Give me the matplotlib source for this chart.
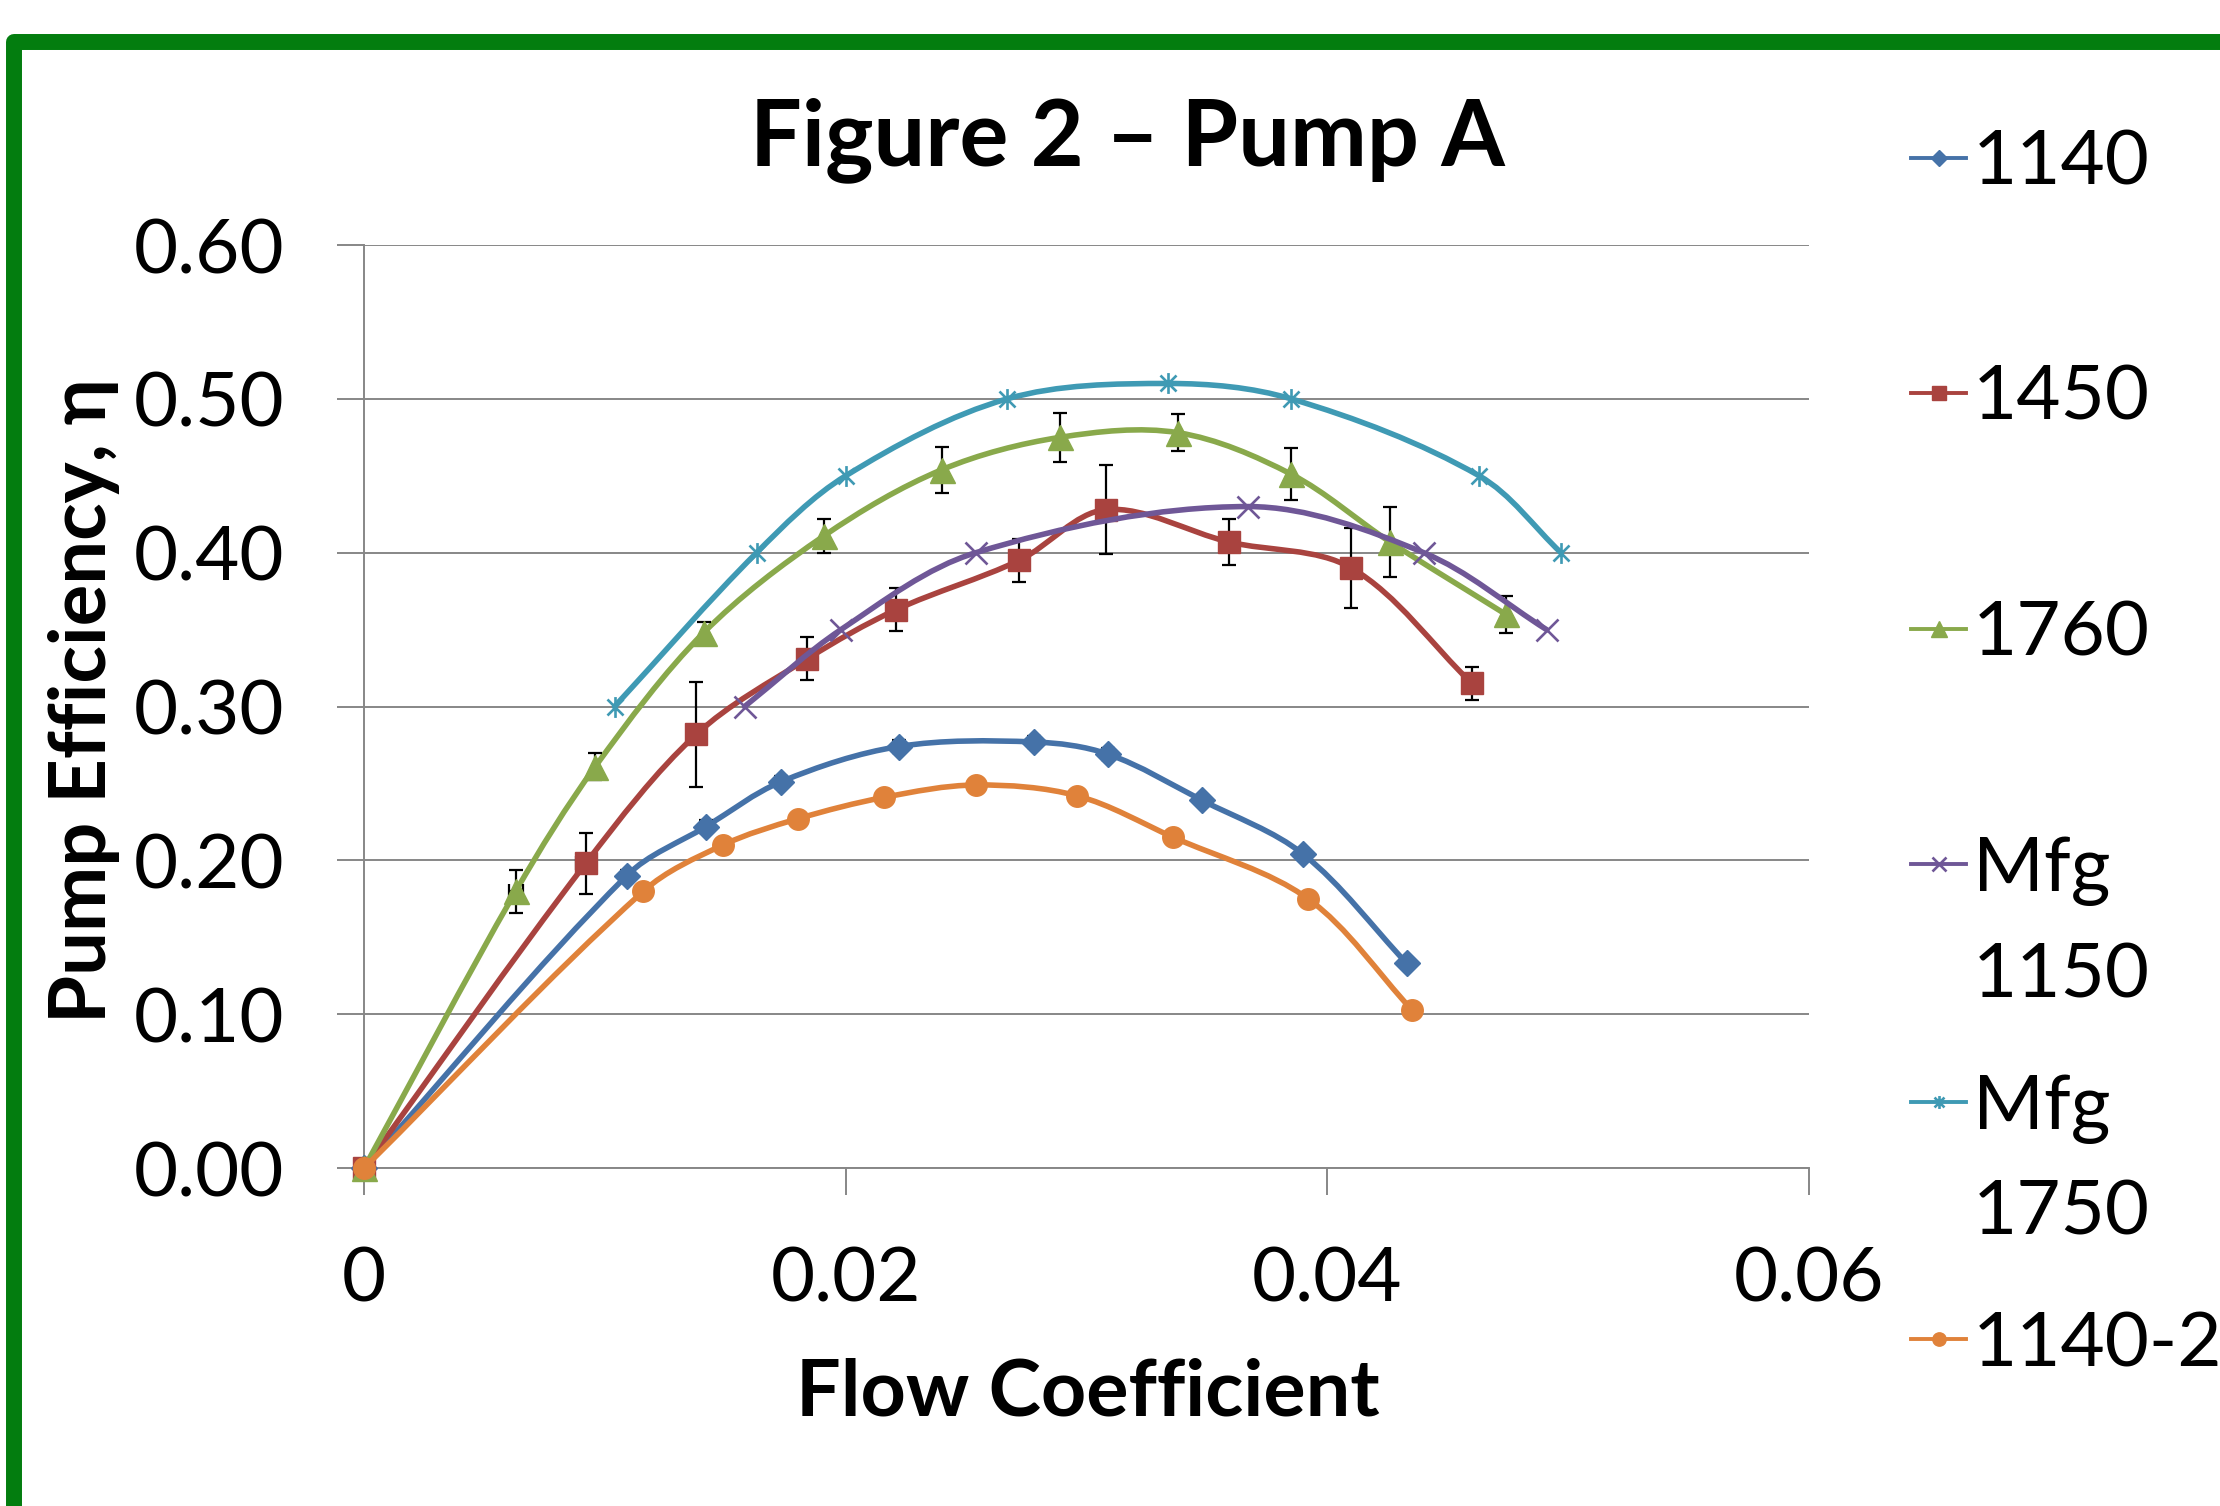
import numpy as np
import matplotlib
matplotlib.use("Agg")
import matplotlib.pyplot as plt
from matplotlib.path import Path
from matplotlib.patches import PathPatch, Rectangle
from matplotlib.lines import Line2D
from matplotlib.text import Annotation

plt.rcParams['font.family'] = ['Lato', 'DejaVu Sans']

# ---------------------------------------------------------
# Data
# ---------------------------------------------------------
x_1140 = [0, 0.0109, 0.0142, 0.0173, 0.0222, 0.0278, 0.0309, 0.0348, 0.0390, 0.0433]
y_1140 = [0, 0.190, 0.222, 0.251, 0.274, 0.277, 0.269, 0.239, 0.204, 0.133]
e_1140 = [0, 0.004, 0.004, 0.004, 0.004, 0.004, 0.004, 0.003, 0.003, 0.002]

x_1450 = [0, 0.0092, 0.0138, 0.0184, 0.0221, 0.0272, 0.0308, 0.0359, 0.0410, 0.0460]
y_1450 = [0, 0.198, 0.282, 0.331, 0.363, 0.395, 0.428, 0.407, 0.390, 0.315]
e_1450 = [0, 0.020, 0.034, 0.014, 0.014, 0.014, 0.029, 0.015, 0.026, 0.011]
xe_1450 = [0, 0.0004, 0, 0, 0, 0, 0, 0, 0, 0]

x_1760 = [0, 0.0063, 0.0096, 0.0141, 0.0191, 0.0240, 0.0289, 0.0338, 0.0385, 0.0426, 0.0474]
y_1760 = [0, 0.180, 0.261, 0.348, 0.411, 0.454, 0.475, 0.478, 0.451, 0.407, 0.360]
e_1760 = [0, 0.014, 0.009, 0.007, 0.011, 0.015, 0.016, 0.012, 0.017, 0.023, 0.012]
xe_1760 = [0, 0.0003, 0, 0, 0, 0, 0, 0, 0, 0, 0]

x_mfg1150 = [0.0158, 0.0198, 0.0254, 0.0367, 0.0440, 0.0491]
y_mfg1150 = [0.30, 0.35, 0.40, 0.43, 0.40, 0.35]

x_mfg1750 = [0.0104, 0.0163, 0.0200, 0.0267, 0.0334, 0.0385, 0.0463, 0.0497]
y_mfg1750 = [0.30, 0.40, 0.45, 0.50, 0.51, 0.50, 0.45, 0.40]

x_1140_2 = [0, 0.0116, 0.0149, 0.0180, 0.0216, 0.0254, 0.0296, 0.0336, 0.0392, 0.0435]
y_1140_2 = [0, 0.180, 0.210, 0.227, 0.241, 0.249, 0.242, 0.215, 0.175, 0.103]

x_ticks = [0, 0.02, 0.04, 0.06]
x_tick_labels = ['0', '0.02', '0.04', '0.06']
y_ticks = [0.0, 0.1, 0.2, 0.3, 0.4, 0.5, 0.6]
y_tick_labels = ['0.00', '0.10', '0.20', '0.30', '0.40', '0.50', '0.60']

# Excel "star" marker: an x with a vertical stroke
star = Path([(-1, -1), (1, 1), (-1, 1), (1, -1), (0, -1.3), (0, 1.3)],
            [Path.MOVETO, Path.LINETO] * 3)

series = [
    # label, x, y, yerr, xerr, color, marker, markersize
    ('1140', x_1140, y_1140, e_1140, None, '#4572a8', 'D', 13.5),
    ('1450', x_1450, y_1450, e_1450, xe_1450, '#a9433f', 's', 16),
    ('1760', x_1760, y_1760, e_1760, xe_1760, '#89a94b', '^', 18),
    ('Mfg', x_mfg1150, y_mfg1150, None, None, '#6f5797', 'x', 16),
    ('Mfg', x_mfg1750, y_mfg1750, None, None, '#3f9ab4', star, 15),
    ('1140-2', x_1140_2, y_1140_2, None, None, '#e0823a', 'o', 15.5),
]
second_lines = {3: '1150', 4: '1750'}


# ---------------------------------------------------------
# Helper: Excel-style smoothed line as cubic Bezier segments,
# tangents scaled by the on-screen segment lengths
# ---------------------------------------------------------
def smooth_path(ax, xs, ys):
    pts = ax.transData.transform(np.column_stack([xs, ys]).astype(float))
    n = len(pts)
    d = np.hypot(*np.diff(pts, axis=0).T)
    verts = [pts[0]]
    codes = [Path.MOVETO]
    for i in range(n - 1):
        p1, p2 = pts[i], pts[i + 1]
        if i > 0:
            c1 = p1 + (p2 - pts[i - 1]) * d[i] / (d[i - 1] + d[i]) / 3
        else:
            c1 = p1 + (p2 - p1) / 3
        if i + 2 < n:
            c2 = p2 - (pts[i + 2] - p1) * d[i] / (d[i] + d[i + 1]) / 3
        else:
            c2 = p2 - (p2 - p1) / 3
        verts += [c1, c2, p2]
        codes += [Path.CURVE4] * 3
    verts = ax.transData.inverted().transform(np.array(verts))
    return Path(verts, codes)


fig = plt.figure(figsize=(22.2, 15.06), dpi=100)
ax = fig.add_axes([0.164, 0.2244, 0.6509, 0.6129])
ax.set_xlim(0, 0.06)
ax.set_ylim(0, 0.6)

lw = 4.0
handles = []
for k, (label, xs, ys, yerr, xerr, color, marker, ms) in enumerate(series):
    z = 3 + k
    ax.add_patch(PathPatch(smooth_path(ax, xs, ys), facecolor='none', edgecolor=color,
                           lw=lw, capstyle='round', joinstyle='round',
                           transform=ax.transData, zorder=z, clip_on=False))
    if yerr is not None:
        xs_a, ys_a, ye_a = np.array(xs), np.array(ys), np.array(yerr)
        m = ye_a > 0
        ax.errorbar(xs_a[m], ys_a[m], yerr=ye_a[m], fmt='none', ecolor='black',
                    elinewidth=1.6, capsize=4.8, capthick=1.6, zorder=z + 0.1)
    if xerr is not None:
        xs_a, ys_a, xe_a = np.array(xs), np.array(ys), np.array(xerr)
        m = xe_a > 0
        ax.errorbar(xs_a[m], ys_a[m], xerr=xe_a[m], fmt='none', ecolor='black',
                    elinewidth=1.6, capsize=4.8, capthick=1.6, zorder=z + 0.1)
    mew = 1.9 if marker == 'x' or marker is star else 1
    ax.plot(xs, ys, linestyle='none', marker=marker, ms=ms, color=color,
            mec=color, mew=mew, zorder=z + 0.2, clip_on=False)
    handles.append(Line2D([], [], color=color, lw=lw * 0.7, marker=marker,
                          ms=ms * 0.62, mec=color, mew=mew, label=label))

ax.set_xticks(x_ticks)
ax.set_xticklabels(x_tick_labels)
ax.set_yticks(y_ticks)
ax.set_yticklabels(y_tick_labels)

grid_c = '#878787'
ax.grid(axis='y', color=grid_c, lw=1.4, zorder=1)
ax.set_axisbelow(True)
for s in ['top', 'right']:
    ax.spines[s].set_visible(False)
for s in ['left', 'bottom']:
    ax.spines[s].set_color(grid_c)
    ax.spines[s].set_linewidth(1.4)
ax.tick_params(axis='both', direction='out', length=19.5, width=1.4, color=grid_c,
               labelsize=55, labelcolor='black')
ax.tick_params(axis='y', pad=38)
ax.tick_params(axis='x', pad=36)

fig.text(0.5077, 0.8905, 'Figure 2 \u2013 Pump A', ha='center', va='baseline',
         fontsize=66, fontweight='bold')
fig.text(0.4902, 0.0604, 'Flow Coefficient', ha='center', va='baseline',
         fontsize=57, fontweight='bold')
fig.text(0.0477, 0.5345, 'Pump Efficiency, \u03b7', ha='center', va='baseline',
         rotation=90, rotation_mode='anchor', fontsize=56, fontweight='bold')

leg = fig.legend(handles=handles, loc='upper left', bbox_to_anchor=(0.861, 0.9147),
                 frameon=False, fontsize=55, handlelength=0.72, handletextpad=0.08,
                 labelspacing=2.18, borderpad=0, borderaxespad=0)
texts = leg.get_texts()
for idx, extra in second_lines.items():
    fig.add_artist(Annotation(extra, xy=(0, 0), xycoords=texts[idx], xytext=(0, -0.46),
                              textcoords='offset fontsize', ha='left', va='top',
                              fontsize=55, zorder=6))

# green frame round the chart
fig.add_artist(Rectangle((0.0063, -0.05), 1.1, 1.0224, fill=False, edgecolor='#037d0f',
                         lw=11.5, joinstyle='round', transform=fig.transFigure))

fig.savefig('out.png', dpi=100)
